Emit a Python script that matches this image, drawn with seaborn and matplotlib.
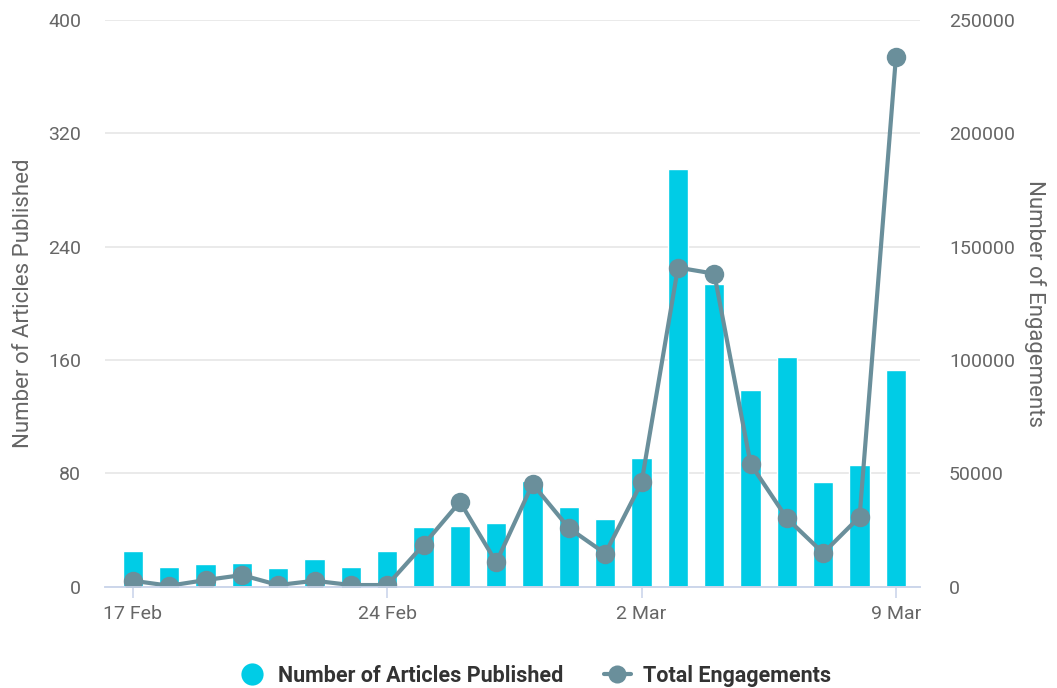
import numpy as np
import pandas as pd
import matplotlib
matplotlib.use('Agg')
import matplotlib.pyplot as plt
from matplotlib.lines import Line2D
import seaborn as sns

# data
dates = pd.date_range('2020-02-17', '2020-03-09', freq='D')
articles = [25, 14, 16, 17, 13, 20, 14, 25, 42, 43, 45, 75, 56, 48, 91,
            295, 214, 139, 162, 74, 86, 153]
engagements = [2700, 500, 3000, 5200, 800, 2700, 800, 800, 18600, 37500,
               10800, 45400, 25900, 14700, 46100, 140800, 138100, 54200,
               30200, 14900, 30900, 233700]
tick_days = ['17 Feb', '24 Feb', '2 Mar', '9 Mar']

BAR_COLOR = '#00CCE6'
LINE_COLOR = '#6A8F9B'
TEXT_COLOR = '#666666'
AXIS_COLOR = '#CCD6EB'

sns.set_style('white')
plt.rcParams['font.family'] = ['Roboto', 'DejaVu Sans']

df = pd.DataFrame({'idx': np.arange(len(dates)),
                   'label': dates.strftime('%-d %b'),
                   'articles': articles,
                   'engagements': engagements})

fig = plt.figure(figsize=(10.57, 6.88), dpi=100)
ax = fig.add_axes([0.0993, 0.147, 0.7710, 0.824])

sns.barplot(data=df, x='idx', y='articles', color=BAR_COLOR, saturation=1,
            width=0.56, ax=ax)
ax.set_ylim(0, 400)
ax.set_yticks(np.arange(0, 401, 80))
ax.set_axisbelow(True)
ax.grid(axis='y', color='#E6E6E6', lw=1.2)
ax.set_xlim(-0.77, len(df) - 1 + 0.66)

tick_pos = [df.index[df['label'] == t][0] for t in tick_days]
ax.set_xticks(tick_pos)
ax.set_xticklabels(tick_days)
ax.set_xlabel('')
ax.set_ylabel('Number of Articles Published', color=TEXT_COLOR, fontsize=16, labelpad=10)

ax2 = ax.twinx()
sns.lineplot(data=df, x='idx', y='engagements', color=LINE_COLOR, lw=3,
             marker='o', markersize=14, markeredgewidth=0, ax=ax2)
ax2.set_ylim(0, 250000)
ax2.set_yticks(np.arange(0, 250001, 50000))
ax2.set_ylabel('Number of Engagements', color=TEXT_COLOR, fontsize=16,
               rotation=270, labelpad=22)
ax2.set_xlabel('')

for a in (ax, ax2):
    for s in ('top', 'left', 'right'):
        a.spines[s].set_visible(False)
    a.spines['bottom'].set_color(AXIS_COLOR)
    a.spines['bottom'].set_linewidth(1.2)
    a.tick_params(axis='y', length=0, labelsize=14, labelcolor=TEXT_COLOR)
ax.tick_params(axis='y', pad=17)
ax2.tick_params(axis='y', pad=21)
ax.tick_params(axis='x', bottom=True, length=8, width=1.2, color=AXIS_COLOR,
               labelsize=14, labelcolor=TEXT_COLOR, pad=5)

handles = [
    Line2D([], [], marker='o', linestyle='none', markersize=16,
           markerfacecolor=BAR_COLOR, markeredgewidth=0),
    Line2D([], [], marker='o', color=LINE_COLOR, lw=3, markersize=13,
           markeredgewidth=0),
]
fig.legend(handles, ['Number of Articles Published', 'Total Engagements'],
           loc='lower center', bbox_to_anchor=(0.506, -0.026), ncol=2,
           frameon=False, handlelength=1.25, handletextpad=0.55, columnspacing=1.9,
           prop={'weight': 'bold', 'size': 15.5}, labelcolor='#333333')

fig.savefig('out.png', dpi=100)
